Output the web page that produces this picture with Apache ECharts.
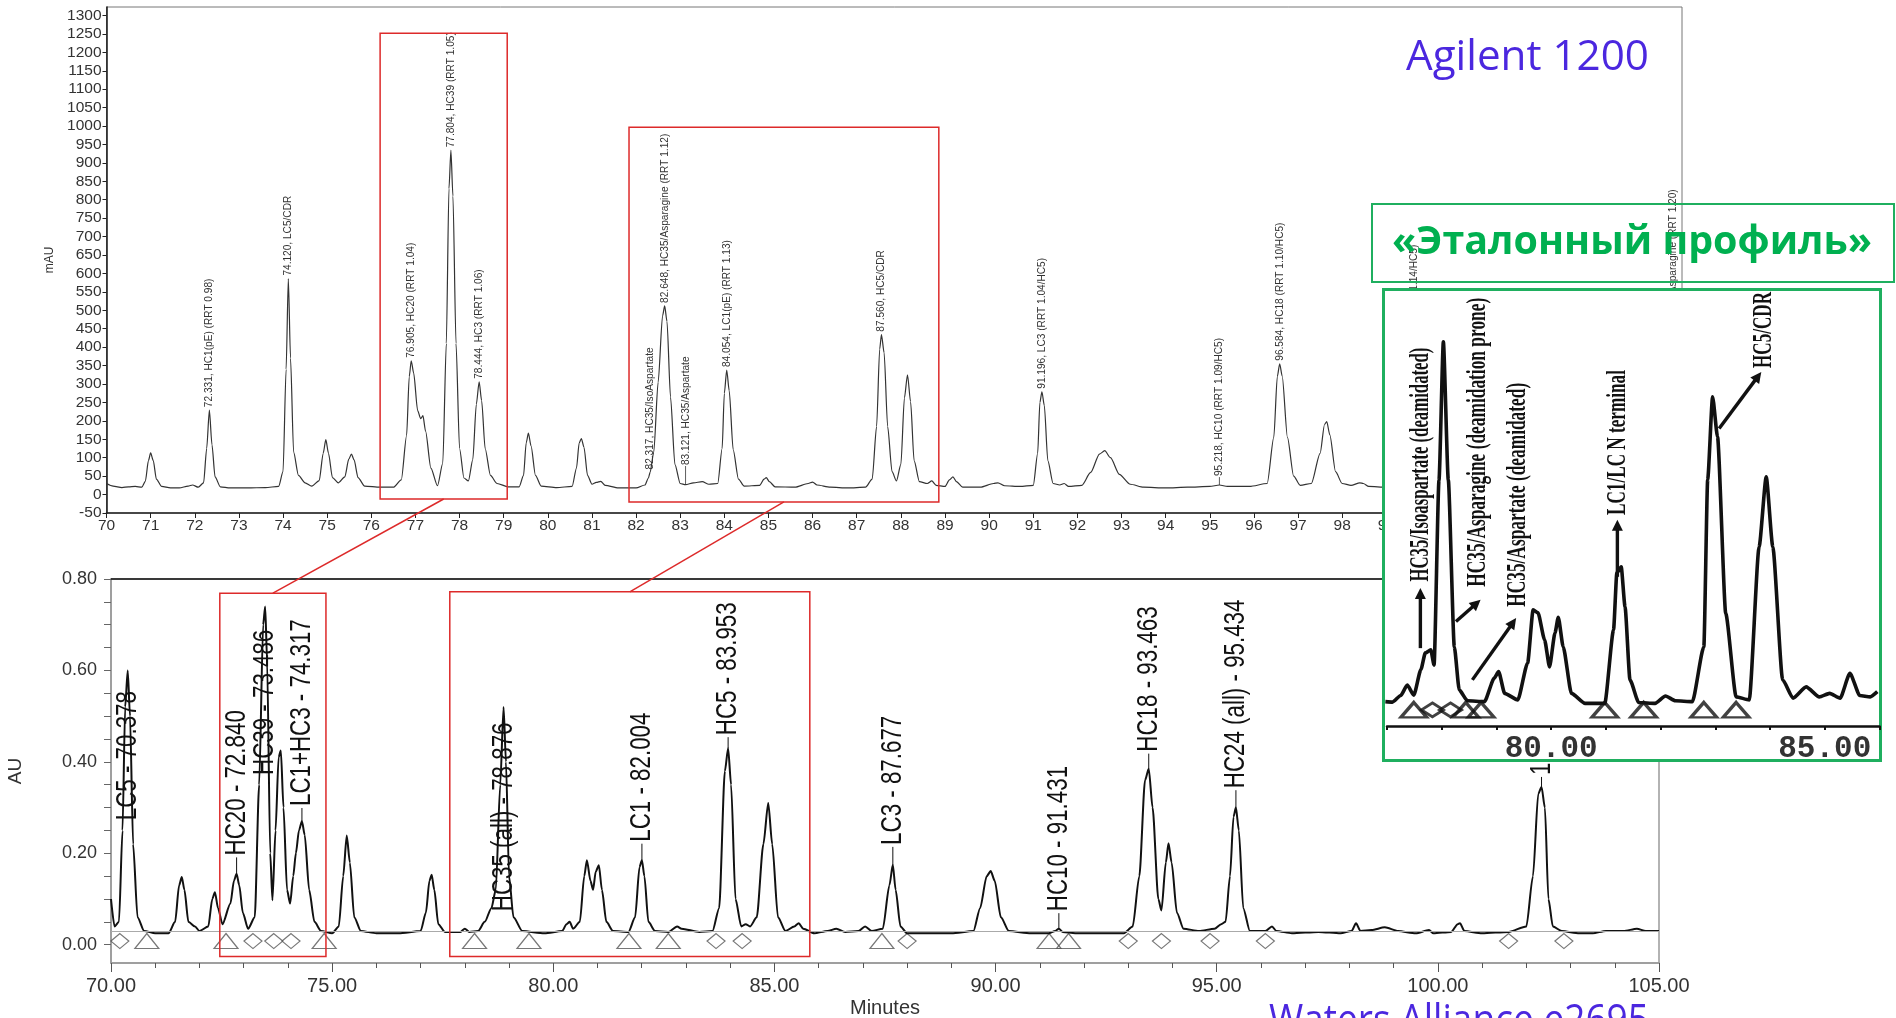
<!DOCTYPE html>
<html>
<head>
<meta charset="utf-8">
<script src="https://cdn.jsdelivr.net/npm/echarts@6/dist/echarts.min.js"></script>
<style>
  html, body { margin: 0; padding: 0; background: #fff; }
  #chart { width: 1896px; height: 1018px; }
</style>
</head>
<body>
<div id="chart"></div>
<script>
// ---------------- Agilent 1200 chromatogram (mAU vs min) ----------------
const topPeakLabels = [
  '72.331, HC1(pE) (RRT 0.98)', '74.120, LC5/CDR', '76.905, HC20 (RRT 1.04)',
  '77.804, HC39 (RRT 1.05)', '78.444, HC3 (RRT 1.06)', '82.317, HC35/IsoAspartate',
  '82.648, HC35/Asparagine (RRT 1.12)', '83.121, HC35/Aspartate', '84.054, LC1(pE) (RRT 1.13)',
  '87.560, HC5/CDR', '91.196, LC3 (RRT 1.04/HC5)', '95.218, HC10 (RRT 1.09/HC5)',
  '96.584, HC18 (RRT 1.10/HC5)', '99.628, HC24 (RRT 1.14/HC5)', '105.490, HC33/Asparagine (RRT 1.20)'
];
const topPeakTimes = [72.331, 74.120, 76.905, 77.804, 78.444, 82.317, 82.648, 83.121, 84.054,
  87.560, 91.196, 95.218, 96.584, 99.628, 105.490];
const topPeakHeights = [229, 586, 363, 934, 306, 60, 512, 27, 338, 434, 279, 26, 355, 295, 346];

// trace points between / around the labelled apexes
const topTraceShape = [
  [70.0,30],[70.15,23],[70.35,19],[70.5,21],[70.65,22],[70.8,20],[70.88,36],[70.95,92],[71.0,113],
  [71.06,92],[71.13,42],[71.25,22],[71.45,18],[71.65,18],[71.85,23],[71.95,26],[72.08,20],[72.2,32],
  [72.27,125],[72.39,135],[72.46,48],[72.58,21],[72.8,18],[73.2,18],[73.6,19],[73.9,22],[74.0,62],
  [74.07,340],[74.17,370],[74.24,115],[74.35,52],[74.5,32],[74.65,23],[74.82,38],[74.91,112],[74.97,149],
  [75.03,112],[75.12,46],[75.25,32],[75.4,48],[75.49,96],[75.55,110],[75.61,94],[75.7,46],[75.85,23],
  [76.2,20],[76.5,20],[76.68,40],[76.8,160],[76.86,320],[76.96,330],[77.05,228],[77.12,206],[77.17,214],
  [77.23,172],[77.35,72],[77.5,24],[77.62,85],[77.7,410],[77.76,830],[77.85,810],[77.92,410],[78.0,125],
  [78.1,45],[78.2,37],[78.3,95],[78.38,245],[78.5,255],[78.58,125],[78.7,52],[78.85,30],[79.1,21],
  [79.35,21],[79.45,52],[79.51,140],[79.56,167],[79.62,132],[79.72,52],[79.85,23],[80.2,19],[80.55,22],
  [80.65,72],[80.71,140],[80.76,152],[80.82,128],[80.9,52],[81.0,28],[81.1,33],[81.2,36],[81.3,25],
  [81.6,18],[82.0,18],[82.2,26],[82.28,45],[82.4,115],[82.5,305],[82.6,485],[82.7,470],[82.78,265],
  [82.88,82],[83.0,30],[83.3,32],[83.5,35],[83.65,28],[83.85,30],[83.95,125],[84.0,275],[84.11,282],
  [84.2,122],[84.32,42],[84.45,23],[84.8,25],[84.9,42],[84.95,46],[85.02,35],[85.15,21],[85.6,20],
  [85.9,30],[86.0,34],[86.1,26],[86.4,20],[86.8,18],[87.2,20],[87.35,42],[87.45,185],[87.52,395],
  [87.62,385],[87.7,185],[87.8,62],[87.9,37],[88.0,82],[88.08,262],[88.15,325],[88.22,252],[88.3,92],
  [88.42,35],[88.6,30],[88.7,37],[88.8,25],[89.0,22],[89.1,40],[89.18,48],[89.26,35],[89.4,20],
  [89.8,20],[90.1,30],[90.2,32],[90.35,24],[90.7,22],[91.0,25],[91.1,112],[91.15,250],[91.25,242],
  [91.33,92],[91.45,30],[91.6,26],[91.7,30],[91.8,22],[92.1,25],[92.3,60],[92.5,110],[92.62,119],
  [92.75,100],[92.95,55],[93.2,28],[93.5,20],[94.0,18],[94.5,20],[95.0,22],[95.4,22],[95.9,22],
  [96.3,30],[96.45,155],[96.53,320],[96.64,322],[96.76,155],[96.9,50],[97.05,25],[97.3,30],[97.5,112],
  [97.6,190],[97.65,198],[97.72,162],[97.85,62],[98.0,30],[98.2,25],[98.4,32],[98.48,30],[98.6,22],
  [99.0,20],[99.45,40],[99.55,240],[99.7,245],[99.82,40],[100.2,20],[101.0,20],[102.0,20],[103.0,20],
  [104.0,20],[105.3,40],[105.42,280],[105.56,290],[105.7,60]
];

// ---------------- Waters Alliance e2695 chromatogram (AU vs Minutes) ----------------
const bottomPeakLabels = ['LC5 - 70.378', 'HC20 - 72.840', 'HC39 - 73.486', 'LC1+HC3 - 74.317',
  'HC35 (all) - 78.876', 'LC1 - 82.004', 'HC5 - 83.953', 'LC3 - 87.677', 'HC10 - 91.431',
  'HC18 - 93.463', 'HC24 (all) - 95.434', '102.344'];
const bottomPeakTimes = [70.378, 72.840, 73.486, 74.317, 78.876, 82.004, 83.953, 87.677, 91.431,
  93.463, 95.434, 102.344];
const bottomPeakHeights = [0.60, 0.155, 0.74, 0.27, 0.52, 0.185, 0.43, 0.175, 0.035, 0.385, 0.30, 0.345];

const bottomTraceShape = [
  [70.0,0.10],[70.08,0.04],[70.18,0.05],[70.26,0.25],[70.32,0.52],[70.43,0.50],[70.5,0.22],[70.6,0.06],
  [70.75,0.03],[71.0,0.025],[71.3,0.025],[71.45,0.05],[71.54,0.13],[71.6,0.148],[71.66,0.12],[71.75,0.05],
  [71.9,0.04],[72.0,0.03],[72.2,0.04],[72.29,0.1],[72.35,0.115],[72.42,0.08],[72.52,0.045],[72.7,0.09],
  [72.78,0.14],[72.9,0.13],[72.98,0.07],[73.1,0.035],[73.25,0.06],[73.35,0.35],[73.44,0.70],[73.53,0.62],
  [73.6,0.2],[73.65,0.097],[73.72,0.25],[73.79,0.41],[73.84,0.425],[73.9,0.3],[73.98,0.12],[74.05,0.09],
  [74.12,0.15],[74.18,0.2],[74.25,0.25],[74.38,0.24],[74.48,0.12],[74.6,0.05],[74.75,0.03],[75.0,0.025],
  [75.15,0.04],[75.25,0.15],[75.33,0.239],[75.4,0.18],[75.5,0.06],[75.65,0.03],[76.0,0.025],[76.5,0.025],
  [77.0,0.03],[77.12,0.07],[77.2,0.14],[77.25,0.153],[77.31,0.12],[77.4,0.045],[77.55,0.028],[77.9,0.028],
  [78.0,0.035],[78.1,0.028],[78.3,0.03],[78.45,0.05],[78.6,0.08],[78.7,0.12],[78.8,0.35],[78.93,0.4],
  [79.0,0.15],[79.1,0.06],[79.3,0.03],[79.8,0.025],[80.2,0.03],[80.3,0.045],[80.37,0.05],[80.45,0.035],
  [80.6,0.05],[80.7,0.15],[80.76,0.185],[80.84,0.14],[80.9,0.12],[80.96,0.16],[81.03,0.174],[81.1,0.12],
  [81.2,0.05],[81.35,0.03],[81.7,0.028],[81.85,0.06],[81.95,0.17],[82.06,0.15],[82.15,0.05],[82.3,0.03],
  [82.6,0.028],[82.8,0.04],[82.9,0.035],[83.3,0.028],[83.6,0.03],[83.75,0.08],[83.88,0.38],[84.02,0.35],
  [84.12,0.1],[84.25,0.04],[84.35,0.045],[84.45,0.04],[84.6,0.06],[84.75,0.22],[84.86,0.31],[84.95,0.22],
  [85.08,0.06],[85.25,0.03],[85.45,0.04],[85.55,0.047],[85.65,0.035],[85.9,0.025],[86.2,0.03],[86.4,0.035],
  [86.6,0.028],[86.9,0.03],[87.05,0.04],[87.2,0.03],[87.45,0.035],[87.6,0.13],[87.74,0.12],[87.85,0.04],
  [88.0,0.025],[88.5,0.025],[89.0,0.025],[89.5,0.03],[89.65,0.08],[89.8,0.15],[89.89,0.161],[89.98,0.14],
  [90.12,0.06],[90.3,0.03],[90.8,0.025],[91.2,0.025],[91.35,0.03],[91.52,0.028],[91.8,0.025],[92.5,0.025],
  [92.9,0.025],[93.1,0.04],[93.25,0.15],[93.38,0.36],[93.55,0.3],[93.68,0.1],[93.75,0.075],[93.85,0.18],
  [93.91,0.222],[93.98,0.18],[94.1,0.07],[94.25,0.035],[94.6,0.03],[94.95,0.035],[95.1,0.045],[95.2,0.05],
  [95.3,0.15],[95.38,0.28],[95.5,0.25],[95.6,0.08],[95.75,0.03],[96.1,0.03],[96.25,0.04],[96.35,0.03],
  [96.7,0.025],[97.3,0.028],[97.8,0.025],[98.05,0.03],[98.15,0.047],[98.25,0.03],[98.5,0.032],[98.8,0.038],
  [99.1,0.03],[99.5,0.025],[99.8,0.032],[99.9,0.025],[100.3,0.028],[100.45,0.045],[100.5,0.047],[100.6,0.03],
  [101.0,0.025],[101.6,0.028],[102.0,0.04],[102.15,0.15],[102.27,0.33],[102.42,0.3],[102.5,0.1],[102.6,0.04],
  [102.8,0.03],[103.2,0.025],[103.5,0.025],[103.8,0.03],[104.2,0.03],[104.5,0.035],[104.7,0.03],[105.0,0.03]
];
const bottomTriangleTimes = [70.81, 72.6, 74.82, 78.22, 79.45, 81.71, 82.6, 87.43, 91.21, 91.65];
const bottomDiamondTimes = [70.2, 73.21, 73.68, 74.07, 83.68, 84.27, 88.0, 93.0, 93.75, 94.85, 96.1, 101.6, 102.85];
const bottomYTickLabels = [0, 0.2, 0.4, 0.6, 0.8];
const bottomYTicks = [0, 0.05, 0.1, 0.15, 0.2, 0.25, 0.3, 0.35, 0.4, 0.45, 0.5, 0.55, 0.6, 0.65, 0.7, 0.75, 0.8];

// ---------------- reference profile (inset, relative response) ----------------
const insetTrace = [
  [76.97,0.056],[77.1,0.055],[77.25,0.07],[77.37,0.094],[77.49,0.071],[77.62,0.13],[77.7,0.168],[77.8,0.175],
  [77.86,0.14],[77.95,0.565],[78.03,0.883],[78.12,0.566],[78.23,0.182],[78.32,0.083],[78.47,0.058],[78.78,0.056],
  [78.96,0.11],[79.04,0.125],[79.15,0.075],[79.39,0.06],[79.57,0.145],[79.67,0.267],[79.76,0.26],[79.88,0.198],
  [79.97,0.136],[80.07,0.214],[80.13,0.25],[80.22,0.182],[80.37,0.075],[80.62,0.052],[80.98,0.052],[81.14,0.221],
  [81.2,0.352],[81.28,0.366],[81.35,0.274],[81.44,0.106],[81.6,0.054],[81.9,0.052],[82.09,0.069],[82.27,0.058],
  [82.58,0.056],[82.79,0.182],[82.86,0.566],[82.95,0.757],[83.04,0.665],[83.19,0.259],[83.38,0.067],[83.62,0.06],
  [83.8,0.412],[83.93,0.573],[84.05,0.412],[84.23,0.106],[84.42,0.064],[84.66,0.09],[84.9,0.067],[85.09,0.075],
  [85.28,0.064],[85.46,0.121],[85.64,0.07],[85.83,0.067],[85.96,0.079]
];
const insetTriangleTimes = [77.49, 78.44, 78.72, 80.98, 81.69, 82.79, 83.38];
const insetDiamondTimes = [77.83, 78.16];
const insetTickLabels = [80, 85];

// ---------------- layout / styling ----------------
const SANS = '"Liberation Sans", Arial, sans-serif';
const BLUE = '#4B27DF';
const GREEN = '#00B050';
const RED = '#DD2A2A';
const MARKER_LEVEL = 0.008;      // AU, integration marks under the baseline
const INSET_MARKER_LEVEL = 0.037;

// label anchors that sit above (or across) their peak, keyed by retention time
const topLabelFloor = { '83.121': 72, '95.218': 42 };
const bottomLabelBase = {
  '70.378': 0.268, '72.84': 0.191, '73.486': 0.367, '74.317': 0.299, '78.876': 0.069,
  '82.004': 0.221, '83.953': 0.454, '87.677': 0.214, '91.431': 0.069, '93.463': 0.418,
  '95.434': 0.338, '102.344': 0.367
};

// highlighted regions and their zoomed counterparts
const zoomBoxes = [
  { top: { x: [76.2, 79.08], y: [-12, 1252] }, bottom: { x: [72.46, 74.86], y: [-0.026, 0.769] } },
  { top: { x: [81.84, 88.86], y: [-20, 997] }, bottom: { x: [77.66, 85.8], y: [-0.026, 0.772] } }
];

// inset annotations: text anchored at its lower end, arrow from -> to (inset data units)
const insetNotes = [
  { text: 'HC35/Isoaspartate (deamidated)', at: [77.61, 0.332], len: 234, arrow: [[77.61, 0.179], [77.61, 0.317]] },
  { text: 'HC35/Asparagine (deamidation prone)', at: [78.65, 0.32], len: 289, arrow: [[78.26, 0.24], [78.71, 0.29]] },
  { text: 'HC35/Aspartate (deamidated)', at: [79.39, 0.274], len: 224, arrow: [[78.56, 0.106], [79.36, 0.248]] },
  { text: 'LC1/LC N terminal', at: [81.22, 0.485], len: 145, arrow: [[81.21, 0.343], [81.21, 0.474]] },
  { text: 'HC5/CDR', at: [83.89, 0.823], len: 76, arrow: [[83.07, 0.684], [83.84, 0.814]] }
];

function withApexes(shape, times, heights) {
  return shape.concat(times.map((t, i) => [t, heights[i]])).sort((a, b) => a[0] - b[0]);
}
const measureCtx = document.createElement('canvas').getContext('2d');
function textWidth(text, font) { measureCtx.font = font; return measureCtx.measureText(text).width; }
function keyOf(t) { return String(t); }

const TOP_LABEL_FONT = '11px ' + SANS;
const BOTTOM_LABEL_FONT = '29px ' + SANS;

const chart = echarts.init(document.getElementById('chart'));

const option = {
  animation: false,
  backgroundColor: '#fff',
  grid: [
    { left: 106.5, top: 7, width: 1575.5, height: 506, show: true, borderColor: '#777', borderWidth: 1, outerBoundsMode: 'none', containLabel: false },
    { left: 111, top: 579, width: 1548, height: 384, show: true, borderColor: '#9a9a9a', borderWidth: 1.5, outerBoundsMode: 'none', containLabel: false },
    { left: 1387, top: 291, width: 492.5, height: 435, show: false, outerBoundsMode: 'none', containLabel: false }
  ],
  xAxis: [
    {
      gridIndex: 0, type: 'value', min: 70, max: 105.7, interval: 1,
      axisLine: { onZero: false, lineStyle: { color: '#222', width: 1.6 } },
      axisTick: { length: 5, lineStyle: { color: '#222' } },
      axisLabel: { fontSize: 15.5, color: '#333', margin: 5, fontFamily: SANS, showMaxLabel: false, formatter: v => String(v) },
      splitLine: { show: false }
    },
    {
      gridIndex: 1, type: 'value', min: 70, max: 105, interval: 5,
      axisLine: { onZero: false, lineStyle: { color: '#999', width: 1.5 } },
      axisTick: { length: 9, lineStyle: { color: '#555' } },
      minorTick: { show: true, splitNumber: 5, length: 5, lineStyle: { color: '#555' } },
      axisLabel: { fontSize: 20, color: '#333', margin: 13, fontFamily: SANS, formatter: v => v.toFixed(2) },
      splitLine: { show: false }, minorSplitLine: { show: false },
      name: 'Minutes', nameLocation: 'middle', nameGap: 35,
      nameTextStyle: { fontSize: 20, color: '#333', fontFamily: SANS }
    },
    {
      gridIndex: 2, type: 'value', min: 77, max: 86, interval: 1, z: 50,
      axisLine: { onZero: false, lineStyle: { color: '#111', width: 2.5 } },
      axisTick: { length: 4, lineStyle: { color: '#111', width: 2 } },
      axisLabel: {
        customValues: insetTickLabels, formatter: v => v.toFixed(2), fontSize: 31, fontWeight: 'bold',
        fontFamily: '"Liberation Mono", "DejaVu Sans Mono", monospace', color: '#333', margin: 8
      },
      splitLine: { show: false }
    }
  ],
  yAxis: [
    {
      gridIndex: 0, type: 'value', min: -50, max: 1323, interval: 50,
      axisLine: { show: true, onZero: false, lineStyle: { color: '#222', width: 1.6 } },
      axisTick: { show: true, length: 4, lineStyle: { color: '#222' } },
      axisLabel: { fontSize: 15.5, color: '#333', margin: 5, fontFamily: SANS, showMaxLabel: false, formatter: v => String(v) },
      splitLine: { show: false },
      name: 'mAU', nameLocation: 'middle', nameGap: 43, nameRotate: 90,
      nameTextStyle: { fontSize: 12, color: '#333', fontFamily: SANS }
    },
    {
      gridIndex: 1, type: 'value', min: -0.04, max: 0.8,
      axisLine: { show: true, onZero: false, lineStyle: { color: '#999', width: 1.5 } },
      axisTick: { show: true, customValues: bottomYTicks, length: 7, lineStyle: { color: '#666' } },
      axisLabel: { customValues: bottomYTickLabels, formatter: v => v.toFixed(2), fontSize: 18, color: '#333', margin: 14, fontFamily: SANS },
      splitLine: { show: false },
      name: 'AU', nameLocation: 'middle', nameGap: 86, nameRotate: 90,
      nameTextStyle: { fontSize: 19, color: '#333', fontFamily: SANS }
    },
    { gridIndex: 2, type: 'value', min: 0, max: 1, show: false }
  ],
  series: [
    {
      type: 'line', xAxisIndex: 0, yAxisIndex: 0, z: 2,
      data: withApexes(topTraceShape, topPeakTimes, topPeakHeights),
      smooth: 0.25, smoothMonotone: 'x', symbol: 'none',
      lineStyle: { color: '#333', width: 1.2 }
    },
    {
      type: 'custom', xAxisIndex: 0, yAxisIndex: 0, z: 3,
      data: topPeakTimes.map((t, i) => [t, topPeakHeights[i], i]),
      renderItem: function (params, api) {
        const t = api.value(0), h = api.value(1), i = api.value(2);
        const floor = topLabelFloor[keyOf(t)];
        const base = floor !== undefined ? Math.max(h, floor) : h;
        const p0 = api.coord([t, h]);
        const p1 = api.coord([t, base]);
        const children = [];
        if (base > h) {
          children.push({ type: 'line', shape: { x1: p0[0], y1: p0[1], x2: p1[0], y2: p1[1] - 2 },
            style: { stroke: '#333', lineWidth: 0.8 } });
        }
        children.push({
          type: 'text', x: p1[0], y: p1[1] - 3, rotation: Math.PI / 2, scaleX: 0.92,
          style: { text: topPeakLabels[i], font: TOP_LABEL_FONT, fill: '#333', align: 'left', verticalAlign: 'middle' }
        });
        return { type: 'group', children: children };
      }
    },
    {
      type: 'line', xAxisIndex: 1, yAxisIndex: 1, z: 2,
      data: withApexes(bottomTraceShape, bottomPeakTimes, bottomPeakHeights),
      smooth: 0.25, smoothMonotone: 'x', symbol: 'none',
      lineStyle: { color: '#111', width: 2 },
      markLine: {
        silent: true, symbol: 'none', label: { show: false },
        data: [
          { yAxis: 0.025, lineStyle: { color: '#aaa', width: 1, type: 'solid' } },
          { yAxis: 0.8, lineStyle: { color: '#111', width: 1.6, type: 'solid' } }
        ]
      }
    },
    {
      type: 'custom', xAxisIndex: 1, yAxisIndex: 1, z: 3,
      data: bottomPeakTimes.map((t, i) => [t, bottomPeakHeights[i], i]),
      renderItem: function (params, api) {
        const t = api.value(0), h = api.value(1), i = api.value(2);
        const b = bottomLabelBase[keyOf(t)];
        const base = b !== undefined ? b : h;
        const p0 = api.coord([t, h]);
        const p1 = api.coord([t, base]);
        const children = [];
        if (base > h) {
          children.push({ type: 'line', shape: { x1: p0[0], y1: p0[1], x2: p1[0], y2: p1[1] },
            style: { stroke: '#111', lineWidth: 1 } });
        }
        children.push({
          type: 'text', x: p1[0], y: p1[1] - 2, rotation: Math.PI / 2, scaleX: 0.77,
          style: { text: bottomPeakLabels[i], font: BOTTOM_LABEL_FONT, fill: '#111', align: 'left', verticalAlign: 'middle' }
        });
        return { type: 'group', children: children };
      }
    },
    {
      type: 'scatter', xAxisIndex: 1, yAxisIndex: 1, z: 1, silent: true,
      data: bottomTriangleTimes.map(t => [t, MARKER_LEVEL]),
      symbol: 'triangle', symbolSize: [24, 15],
      itemStyle: { color: 'rgba(255,255,255,0)', borderColor: '#555', borderWidth: 1.2 }
    },
    {
      type: 'scatter', xAxisIndex: 1, yAxisIndex: 1, z: 1, silent: true,
      data: bottomDiamondTimes.map(t => [t, MARKER_LEVEL]),
      symbol: 'diamond', symbolSize: [18, 15],
      itemStyle: { color: 'rgba(255,255,255,0)', borderColor: '#555', borderWidth: 1.2 }
    },
    {
      type: 'line', xAxisIndex: 2, yAxisIndex: 2, z: 50,
      data: insetTrace, smooth: 0.2, smoothMonotone: 'x', symbol: 'none',
      lineStyle: { color: '#111', width: 3.6 }
    },
    {
      type: 'scatter', xAxisIndex: 2, yAxisIndex: 2, z: 51, silent: true,
      data: insetTriangleTimes.map(t => [t, INSET_MARKER_LEVEL]),
      symbol: 'triangle', symbolSize: [26, 15],
      itemStyle: { color: 'rgba(255,255,255,0)', borderColor: '#111', borderWidth: 3 }
    },
    {
      type: 'scatter', xAxisIndex: 2, yAxisIndex: 2, z: 51, silent: true,
      data: insetDiamondTimes.map(t => [t, INSET_MARKER_LEVEL]),
      symbol: 'diamond', symbolSize: [22, 14],
      itemStyle: { color: 'rgba(255,255,255,0)', borderColor: '#111', borderWidth: 3 }
    }
  ]
};

chart.setOption(option);

// ---------------- annotations placed through the axes ----------------
const px = (g, p) => chart.convertToPixel({ gridIndex: g }, p);
const graphics = [];

zoomBoxes.forEach(b => {
  const t1 = px(0, [b.top.x[0], b.top.y[1]]), t2 = px(0, [b.top.x[1], b.top.y[0]]);
  const b1 = px(1, [b.bottom.x[0], b.bottom.y[1]]), b2 = px(1, [b.bottom.x[1], b.bottom.y[0]]);
  graphics.push({ type: 'rect', z: 10, silent: true,
    shape: { x: t1[0], y: t1[1], width: t2[0] - t1[0], height: t2[1] - t1[1] },
    style: { fill: 'none', stroke: RED, lineWidth: 1.5 } });
  graphics.push({ type: 'rect', z: 10, silent: true,
    shape: { x: b1[0], y: b1[1], width: b2[0] - b1[0], height: b2[1] - b1[1] },
    style: { fill: 'none', stroke: RED, lineWidth: 1.5 } });
  graphics.push({ type: 'line', z: 10, silent: true,
    shape: { x1: (t1[0] + t2[0]) / 2, y1: t2[1], x2: (b1[0] + b2[0]) / 2, y2: b1[1] },
    style: { stroke: RED, lineWidth: 1.5 } });
});

// inset panel (white card with green frame) and the caption frame above it
graphics.push({ type: 'rect', z: 40, silent: true,
  shape: { x: 1383.5, y: 289.5, width: 497, height: 471 },
  style: { fill: '#fff', stroke: '#1FAF5F', lineWidth: 3 } });
graphics.push({ type: 'rect', z: 45, silent: true,
  shape: { x: 1372, y: 204, width: 522, height: 78 },
  style: { fill: 'none', stroke: '#1FAF5F', lineWidth: 2 } });

// inset annotations: condensed serif captions with arrows
const NOTE_FONT = 'bold 28px "Liberation Serif", "DejaVu Serif", serif';
insetNotes.forEach(n => {
  const a = px(2, n.at);
  const w = textWidth(n.text, NOTE_FONT);
  graphics.push({ type: 'text', z: 55, silent: true, x: a[0], y: a[1], rotation: Math.PI / 2,
    scaleX: n.len / w,
    style: { text: n.text, font: NOTE_FONT, fill: '#111', align: 'left', verticalAlign: 'middle' } });
  const s = px(2, n.arrow[0]), e = px(2, n.arrow[1]);
  const dx = e[0] - s[0], dy = e[1] - s[1], L = Math.hypot(dx, dy);
  const ux = dx / L, uy = dy / L, nx = -uy, ny = ux;
  const hl = 11, hw = 5.5;
  graphics.push({ type: 'line', z: 55, silent: true,
    shape: { x1: s[0], y1: s[1], x2: e[0] - ux * (hl - 2), y2: e[1] - uy * (hl - 2) },
    style: { stroke: '#111', lineWidth: 3.4 } });
  graphics.push({ type: 'polygon', z: 55, silent: true,
    shape: { points: [[e[0], e[1]], [e[0] - ux * hl + nx * hw, e[1] - uy * hl + ny * hw], [e[0] - ux * hl - nx * hw, e[1] - uy * hl - ny * hw]] },
    style: { fill: '#111' } });
});

// captions
function caption(text, font, x, y, width, color) {
  const w = textWidth(text, font);
  return { type: 'text', z: 60, silent: true, x: x, y: y, scaleX: width / w,
    style: { text: text, font: font, fill: color, align: 'left', verticalAlign: 'middle' } };
}
const CAP_FONT = '42px "Open Sans", "Noto Sans", sans-serif';
const CAP_BOLD = 'bold 40px "Open Sans", "Noto Sans", sans-serif';
graphics.push(caption('Agilent 1200', CAP_FONT, 1406, 58, 243, BLUE));
graphics.push(caption('«Эталонный профиль»', CAP_BOLD, 1392, 243, 480, GREEN));
graphics.push(caption('Waters Alliance e2695', CAP_FONT, 1269, 1022, 380, BLUE));

chart.setOption({ graphic: graphics });
</script>
</body>
</html>
